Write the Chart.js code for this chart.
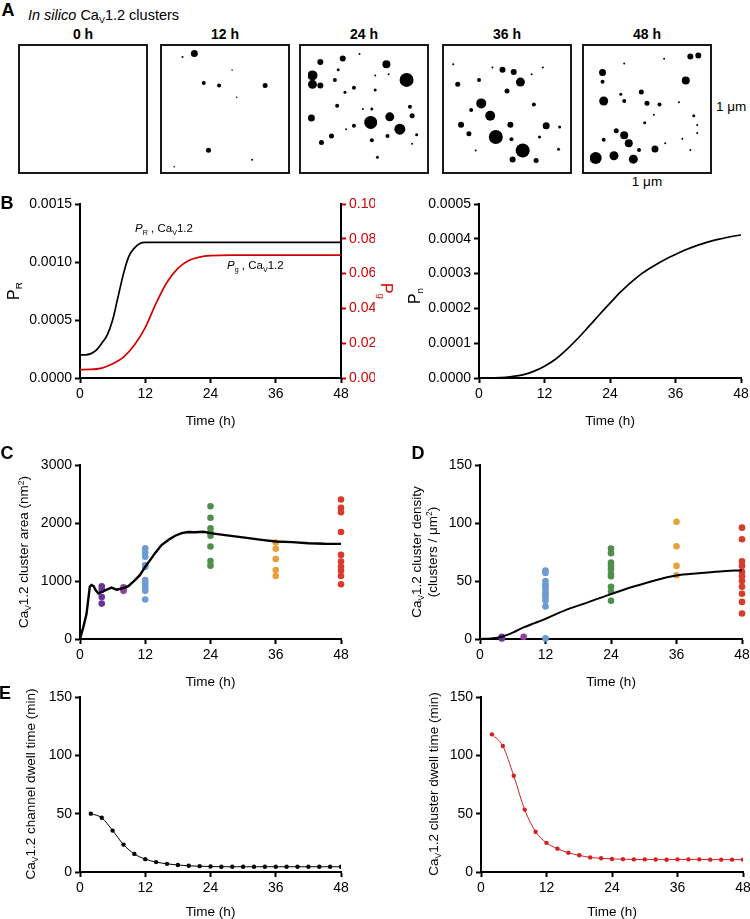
<!DOCTYPE html>
<html>
<head>
<meta charset="utf-8">
<script src="https://cdn.jsdelivr.net/npm/chart.js@4.4.1/dist/chart.umd.min.js"></script>
<style>
  body { margin: 0; background: #fff; font-family: "Liberation Sans", Arial, sans-serif; color: #000; }
  #page { position: relative; width: 750px; height: 919px; overflow: hidden; }
  canvas { position: absolute; }
  .img { position: absolute; top: 44px; width: 130px; height: 130px; border: 2px solid #1a1a1a; box-sizing: border-box; }
  .img canvas { left: 0; top: 0; }
  .t { position: absolute; white-space: nowrap; line-height: 1; font-size: 13.5px; transform: translate(-50%, -50%); }
  .t.up { transform: translate(-50%, -50%) rotate(-90deg); }
  .t.down { transform: translate(-50%, -50%) rotate(90deg); }
  .t.l { transform: translate(0, -50%); }
  .letter { font-weight: bold; font-size: 18px; }
  .hd { font-weight: bold; font-size: 14px; }
  .note { font-size: 11.5px; }
  .big { font-size: 16px; }
  sub { font-size: 0.62em; vertical-align: -0.35em; line-height: 0; }
  sup { font-size: 0.62em; vertical-align: 0.55em; line-height: 0; }
  .red { color: #d40000; }
</style>
</head>
<body>
<div id="page">
  <div class="t letter" style="left:8px;top:10px">A</div>
  <div class="t l" style="left:28px;top:15px;font-size:14.5px"><i>In silico</i> Ca<sub>V</sub>1.2 clusters</div>
  <div class="t hd" style="left:83px;top:34px">0 h</div>
  <div class="t hd" style="left:225px;top:34px">12 h</div>
  <div class="t hd" style="left:364px;top:34px">24 h</div>
  <div class="t hd" style="left:507px;top:34px">36 h</div>
  <div class="t hd" style="left:647px;top:34px">48 h</div>
  <div class="img" style="left:18px"><canvas id="img0"></canvas></div>
  <div class="img" style="left:160px"><canvas id="img12"></canvas></div>
  <div class="img" style="left:299px"><canvas id="img24"></canvas></div>
  <div class="img" style="left:442px"><canvas id="img36"></canvas></div>
  <div class="img" style="left:582px"><canvas id="img48"></canvas></div>
  <div class="t l" style="left:716px;top:107px">1 μm</div>
  <div class="t" style="left:647px;top:182px">1 μm</div>

  <canvas id="probR"></canvas>
  <canvas id="probN"></canvas>
  <canvas id="area"></canvas>
  <canvas id="density"></canvas>
  <canvas id="chDwell"></canvas>
  <canvas id="clDwell"></canvas>

  <div class="t letter" style="left:7px;top:203px">B</div>
  <div class="t up big" style="left:14px;top:291px">P<sub>R</sub></div>
  <div class="t down big red" style="left:386px;top:291px">P<sub>g</sub></div>
  <div class="t up big" style="left:415px;top:296px">P<sub>n</sub></div>
  <div class="t l note" style="left:135px;top:229px"><i>P</i><sub>R</sub> , Ca<sub>V</sub>1.2</div>
  <div class="t l note" style="left:227px;top:266px"><i>P</i><sub>g</sub> , Ca<sub>V</sub>1.2</div>

  <div class="t letter" style="left:7px;top:453px">C</div>
  <div class="t up" style="left:24px;top:552px">Ca<sub>V</sub>1.2 cluster area (nm<sup>2</sup>)</div>
  <div class="t letter" style="left:418px;top:453px">D</div>
  <div class="t up" style="left:425px;top:552px;text-align:center;line-height:1.2">Ca<sub>V</sub>1.2 cluster density<br>(clusters / μm<sup>2</sup>)</div>

  <div class="t letter" style="left:5px;top:693px">E</div>
  <div class="t up" style="left:31px;top:784px">Ca<sub>V</sub>1.2 channel dwell time (min)</div>
  <div class="t up" style="left:434px;top:784px">Ca<sub>V</sub>1.2 cluster dwell time (min)</div>
</div>
<script>
const I = (id) => document.getElementById(id)

Chart.defaults.animation = false
Chart.defaults.font.family = '"Liberation Sans", Arial, sans-serif'
Chart.defaults.color = '#000'
Chart.defaults.plugins.legend.display = false
Chart.defaults.plugins.tooltip.enabled = false

// ---------------- data ----------------

// A: simulated cluster snapshots, [x, y, radius] (x, y as fraction of the 1 µm box)
const clusters0h = []
const clusters12h = [[0.24,0.97,3.5],[0.14,0.94,1],[0.32,0.72,2],[0.45,0.70,2],[0.84,0.70,2.5],[0.56,0.83,0.8],
  [0.60,0.60,0.8],[0.36,0.15,2.5],[0.73,0.07,1],[0.07,0.01,0.8]]
const clusters24h = [[0.11,0.92,3],[0.31,0.95,3],[0.27,0.85,1.5],[0.04,0.80,5],[0.04,0.72,4.5],[0.11,0.71,3],
  [0.24,0.76,2],[0.70,0.90,4],[0.72,0.81,1],[0.88,0.76,7],[0.60,0.80,1],[0.33,0.65,1.5],[0.41,0.69,2],
  [0.60,0.67,1.5],[0.26,0.53,2],[0.57,0.50,1.5],[0.91,0.52,2],[0.03,0.42,3.5],[0.56,0.38,6.5],[0.73,0.43,4.5],
  [0.82,0.32,5.5],[0.93,0.44,2.5],[0.41,0.35,2],[0.34,0.32,1],[0.21,0.26,2.5],[0.12,0.20,2.5],[0.57,0.22,2],
  [0.71,0.26,2],[0.97,0.27,1.5],[0.93,0.19,1],[0.62,0.07,1.5],[0.46,0.99,1],[0.49,0.50,1]]
const clusters36h = [[0.46,0.85,3],[0.56,0.83,3],[0.62,0.74,4.5],[0.25,0.76,2],[0.06,0.72,2.5],[0.50,0.66,2.5],
  [0.27,0.55,5],[0.35,0.44,5],[0.18,0.49,2],[0.09,0.36,3],[0.16,0.28,2.5],[0.40,0.25,7],[0.53,0.36,3],
  [0.64,0.13,7],[0.55,0.05,3],[0.76,0.04,2.5],[0.74,0.54,2],[0.85,0.35,3.5],[0.97,0.34,1.5],[0.82,0.87,1],
  [0.72,0.81,1],[0.37,0.87,1],[0.79,0.25,1.5],[0.96,0.14,1.5],[0.02,0.90,1],[0.22,0.13,1],[0.54,0.23,2]]
const clusters48h = [[0.11,0.82,3.5],[0.11,0.74,2],[0.12,0.57,4.5],[0.30,0.57,2],[0.45,0.65,2.5],[0.50,0.55,2.5],
  [0.61,0.54,2],[0.27,0.63,1.5],[0.84,0.75,4],[0.88,0.96,3],[0.95,0.97,3],[0.65,0.94,1],[0.30,0.90,1],
  [0.48,0.38,1.5],[0.91,0.44,1.5],[0.94,0.36,1],[0.94,0.29,1],[0.23,0.31,2.5],[0.30,0.27,4],[0.34,0.20,4],
  [0.12,0.23,2],[0.21,0.09,4.5],[0.05,0.07,6],[0.38,0.06,4.5],[0.43,0.14,2],[0.57,0.15,3.5],[0.81,0.24,1],
  [0.88,0.14,1],[0.66,0.20,1],[0.78,0.56,1],[0.56,0.45,1]]

// B: probabilities over time (h)
const prTime = [0, 1, 2, 3, 4, 5, 6, 7, 8, 9, 10, 11, 12, 14, 20, 30, 48]
const prValues = [0.0002, 0.0002, 0.00021, 0.00024, 0.0003, 0.00037, 0.0005, 0.0007, 0.0009, 0.00105, 0.00112,
  0.00116, 0.00117, 0.00117, 0.00117, 0.00117, 0.00117]
const pgTime = [0, 2, 4, 6, 8, 10, 12, 14, 16, 18, 20, 22, 24, 28, 48]
const pgValues = [0.0048, 0.0049, 0.0057, 0.0082, 0.012, 0.019, 0.029, 0.043, 0.055, 0.063, 0.0675, 0.0695,
  0.0703, 0.0706, 0.0706]
const pnTime = [0, 4, 6, 8, 10, 12, 14, 16, 18, 20, 22, 24, 26, 28, 30, 32, 34, 36, 38, 40, 42, 44, 46, 48]
const pnValues = [0, 0.000001, 0.000004, 0.000009, 0.000019, 0.000034, 0.000054, 0.000081, 0.000112, 0.000146,
  0.000181, 0.000215, 0.000248, 0.000277, 0.000302, 0.000322, 0.00034, 0.000355, 0.000369, 0.000381, 0.000391,
  0.000399, 0.000406, 0.000411]

// C: cluster area (nm²)
const areaTime = [0, 0.6, 1.2, 1.8, 2.1, 2.5, 2.9, 3.4, 4, 4.9, 5.8, 6.7, 7.7, 8.9, 10.1, 11, 12, 12.9, 13.8, 15,
  16.3, 17.5, 18.7, 19.9, 21.2, 22.7, 24, 26, 28.5, 31, 33.4, 36, 39, 42, 45, 48]
const areaValues = [0, 200, 435, 900, 930, 910, 840, 785, 810, 850, 885, 850, 870, 910, 1015, 1100, 1245, 1360,
  1480, 1620, 1710, 1780, 1825, 1845, 1840, 1850, 1825, 1800, 1770, 1740, 1710, 1680, 1670, 1652, 1642, 1640]
const area4h = [910, 850, 725, 610]
const area8h = [890, 860, 830]
const area12h = [1565, 1490, 1420, 1275, 1245, 1015, 955, 890, 830, 680]
const area24h = [2290, 2090, 1910, 1840, 1780, 1595, 1345, 1265]
const area36h = [1665, 1555, 1380, 1190, 1085]
const area48h = [2405, 2260, 2185, 1845, 1450, 1335, 1245, 1175, 1085, 945]

// D: cluster density (clusters / µm²)
const densityTime = [0, 2, 4, 6, 8, 10, 12, 16, 20, 24, 28, 32, 36, 40, 44, 48]
const densityValues = [0, 0.5, 2, 5.5, 10, 13.7, 17.4, 25.5, 32, 38.7, 45, 50.5, 54.7, 56.6, 58.2, 59.3]
const density4h = [2, 0.5]
const density8h = [2]
const density12h = [59, 57, 50, 47, 45, 43, 40, 38, 36, 33, 28, 0.5]
const density24h = [78, 74, 66, 63, 60, 56, 54, 45, 41, 33]
const density36h = [101, 80, 63, 55]
const density48h = [96, 86, 67, 63, 58, 54, 50, 45, 39, 32, 22]

// E: dwell times (min)
const dwellTime = [2, 4, 6, 8, 10, 12, 14, 16, 18, 20, 22, 24, 26, 28, 30, 32, 34, 36, 38, 40, 42, 44, 46, 48]
const channelDwell = [50, 46.5, 35.5, 23.5, 15.5, 11, 8.5, 7, 6, 5.3, 5, 4.7, 4.5, 4.5, 4.5, 4.5, 4.5, 4.5, 4.5,
  4.5, 4.5, 4.5, 4.5, 4.5]
const clusterDwell = [118, 108, 82.5, 53.5, 34.5, 25, 20, 16.5, 14.3, 12.5, 11.8, 11.2, 11, 10.8, 10.8, 10.7,
  10.5, 10.8, 10.8, 10.8, 10.6, 10.6, 10.6, 10.6]

// ---------------- helpers ----------------

const xy = (xs, ys) => xs.map((x, i) => ({ x: x, y: ys[i] }))
const column = (t, ys) => ys.map(y => ({ x: t, y: y }))
const blobs = (list) => list.map(b => ({ x: b[0], y: b[1], r: b[2] }))

const RED = '#d40000'
const colors = { h4: '#6a3399', h8: '#93409f', h12: '#6c9bd6', h24: '#4f8f4b', h36: '#e7a13a', h48: '#d83b2c' }

function axis(pos, max, step, digits, color) {
  return {
    type: 'linear', position: pos, min: 0, max: max,
    border: { display: true, color: '#000', width: 2 },
    grid: { drawOnChartArea: false, drawTicks: true, tickLength: 5, tickWidth: 2, color: color || '#000' },
    ticks: { stepSize: step, autoSkip: false, color: color || '#000', font: { size: 14 }, padding: 3,
      callback: v => v.toFixed(digits) }
  }
}

// area = [left, top, right, bottom] of the plot box on the page
function plot(id, area, titleGap, datasets, y, y1) {
  const yw = 75, rw = y1 ? 34 : 22, top = 14, xh = titleGap + 8
  const c = I(id)
  c.width = yw + (area[2] - area[0]) + rw
  c.height = top + (area[3] - area[1]) + xh
  c.style.left = (area[0] - yw) + 'px'
  c.style.top = (area[1] - top) + 'px'

  const x = axis('bottom', 48, 12, 0)
  x.title = { display: true, text: 'Time (h)', font: { size: 13.5, weight: 'normal' }, color: '#000', padding: 0 }
  x.afterFit = s => { s.height = xh }
  y.afterFit = s => { s.width = yw }
  const scales = { x: x, y: y }
  if (y1) {
    y1.afterFit = s => { s.width = rw }
    scales.y1 = y1
  }
  return new Chart(c, {
    type: 'line',
    data: { datasets: datasets },
    options: {
      responsive: false,
      layout: { padding: { top: top, right: y1 ? 0 : rw, bottom: 0, left: 0 } },
      scales: scales
    }
  })
}

function curve(xs, ys, color, width, axisId) {
  return { data: xy(xs, ys), borderColor: color, borderWidth: width, pointRadius: 0,
    cubicInterpolationMode: 'monotone', yAxisID: axisId || 'y', order: 0 }
}

function dots(t, ys, color) {
  return { type: 'scatter', data: column(t, ys), backgroundColor: color, borderWidth: 0,
    pointRadius: 3.3, clip: false, order: 1 }
}

function snapshot(id, list) {
  const c = I(id)
  c.width = 126
  c.height = 126
  new Chart(c, {
    type: 'bubble',
    data: { datasets: [{ data: blobs(list), backgroundColor: '#000', borderWidth: 0 }] },
    options: {
      responsive: false,
      layout: { padding: 0 },
      scales: { x: { display: false, min: 0, max: 1 }, y: { display: false, min: 0, max: 1 } }
    }
  })
}

// ---------------- charts ----------------

snapshot('img0', clusters0h)
snapshot('img12', clusters12h)
snapshot('img24', clusters24h)
snapshot('img36', clusters36h)
snapshot('img48', clusters48h)

plot('probR', [80, 204, 341, 378], 43, [
  curve(prTime, prValues, '#000', 1.7),
  curve(pgTime, pgValues, RED, 1.7, 'y1')
], axis('left', 0.0015, 0.0005, 4), axis('right', 0.1, 0.02, 2, RED))

plot('probN', [479, 204, 741, 378], 43, [
  curve(pnTime, pnValues, '#000', 1.7)
], axis('left', 0.0005, 0.0001, 4))

const areaLine = curve(areaTime, areaValues, '#000', 2.4)
areaLine.cubicInterpolationMode = 'default'
plot('area', [80, 465, 341, 639], 43, [
  areaLine,
  dots(4, area4h, colors.h4), dots(8, area8h, colors.h8), dots(12, area12h, colors.h12),
  dots(24, area24h, colors.h24), dots(36, area36h, colors.h36), dots(48, area48h, colors.h48)
], axis('left', 3000, 1000, 0))

plot('density', [480, 465, 742, 639], 43, [
  curve(densityTime, densityValues, '#000', 2),
  dots(4, density4h, colors.h4), dots(8, density8h, colors.h8), dots(12, density12h, colors.h12),
  dots(24, density24h, colors.h24), dots(36, density36h, colors.h36), dots(48, density48h, colors.h48)
], axis('left', 150, 50, 0))

const chLine = curve(dwellTime, channelDwell, '#000', 1)
chLine.pointRadius = 2.2
chLine.pointBackgroundColor = '#000'
chLine.pointBorderWidth = 0
plot('chDwell', [80, 697, 341, 872], 40, [chLine], axis('left', 150, 50, 0))

const clLine = curve(dwellTime, clusterDwell, '#d42020', 1)
clLine.pointRadius = 2.2
clLine.pointBackgroundColor = '#d42020'
clLine.pointBorderWidth = 0
plot('clDwell', [481, 697, 743, 872], 40, [clLine], axis('left', 150, 50, 0))
</script>
</body>
</html>
